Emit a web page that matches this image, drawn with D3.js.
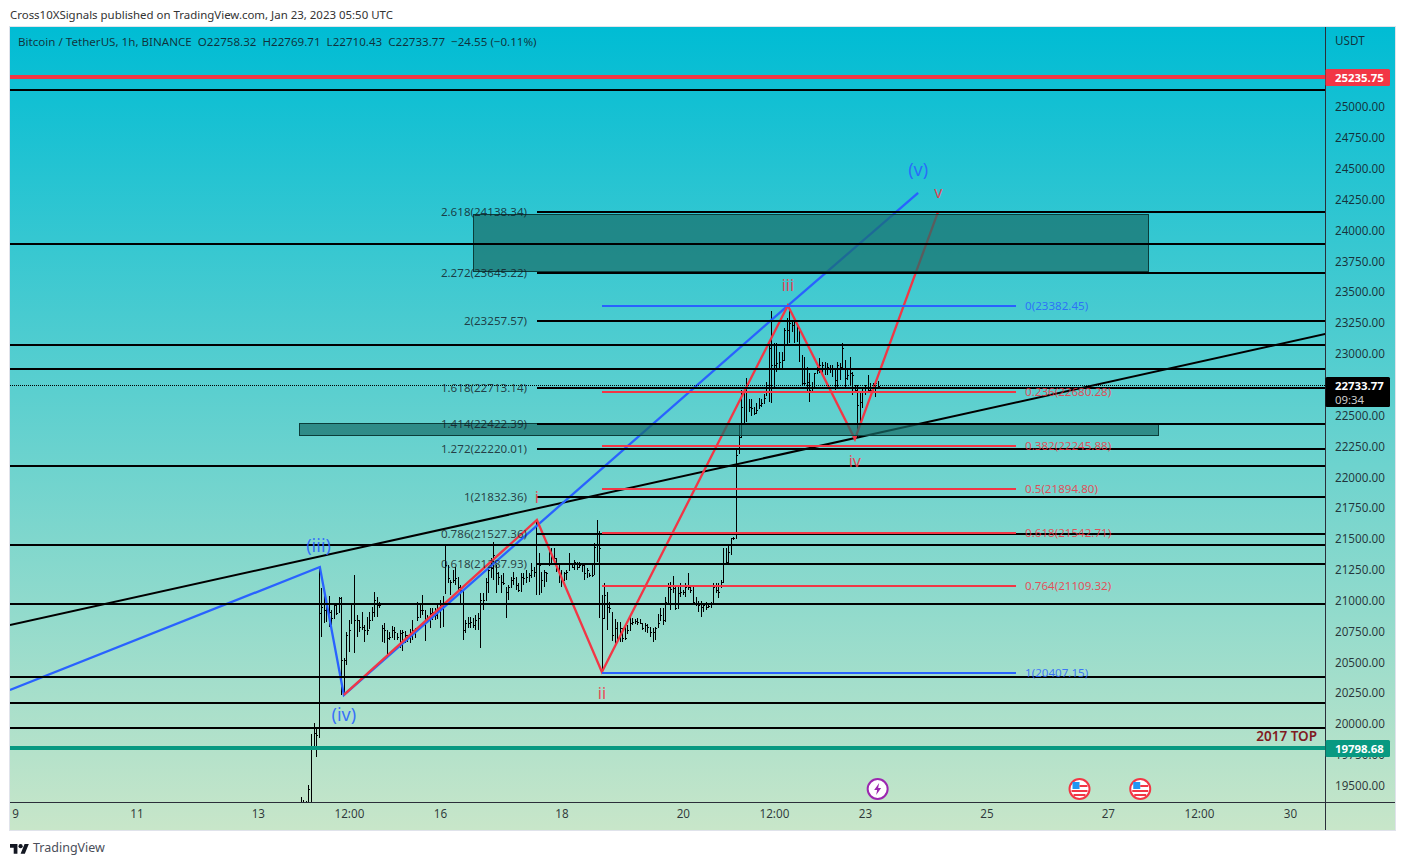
<!DOCTYPE html>
<html>
<head>
<meta charset="utf-8">
<script src="https://cdn.jsdelivr.net/npm/d3@7"></script>
<style>
  html, body { margin: 0; padding: 0; background: #fff; }
  svg { display: block; }
  text { font-family: "Noto Sans", sans-serif; }
</style>
</head>
<body>
<div id="chart"></div>
<script>
// Hours counted from 2023-01-09 00:00 UTC
const startDate = Date.UTC(2023, 0, 9);
const firstBarHour = 113;

// Hourly bars, one value per hour from firstBarHour on. Open is the previous close.
const barHigh = [
  19399,19375,19365,19497,19910,19999,19958,
  21261,21090,21036,20982,21028,20915,20955,20955,21018,21018,
  20523,20739,20834,20974,21198,20874,20834,20901,20793,20861,
  20901,20942,21063,21023,20982,20793,20807,20753,20739,20788,
  20780,20726,20753,20753,20747,20712,20758,20834,20766,20982,
  20969,21036,20915,20874,20928,20928,20928,20955,20996,21025,
  21442,21280,21158,21239,21266,21185,21118,21077,20834,20861,
  20861,20848,20875,20888,21050,21050,21172,21253,21334,21469,
  21280,21226,21199,21212,21104,21118,21185,21226,21185,21131,
  21212,21212,21239,21212,21293,21266,21644,21374,21226,21239,
  21226,21415,21415,21415,21334,21280,21239,21226,21239,21374,
  21293,21320,21307,21307,21293,21293,21253,21212,21280,21455,
  21644,21555,21037,21131,21059,20978,20902,20843,20816,20816,
  20767,20780,20794,20875,20848,20843,20848,20843,20807,20807,
  20799,20780,20767,20780,20880,20929,20929,21023,21131,21145,
  21191,21104,21118,21131,21077,21131,21212,21118,21118,21023,
  20988,20988,20969,20983,20969,20978,21131,21131,21131,21158,
  21415,21415,21442,21496,21510,22212,22414,22698,22698,22793,
  22625,22625,22563,22590,22630,22625,22663,22766,23090,23338,
  23076,23076,23009,23009,23198,23279,23373,23252,23292,23225,
  23211,22982,22968,22887,22833,22766,22833,22887,22955,22928,
  22928,22914,22901,22901,22874,22928,22914,23076,22941,22874,
  22968,22847,22739,22739,22684,22711,22739,22820,22752,22752,22766,22769.71
];
const barLow = [
  19300,19300,19310,19320,19300,19805,19724,
  19880,20694,20807,20820,20780,20793,20847,20874,20901,20226,
  20240,20469,20577,20807,20569,20693,20739,20753,20658,20712,
  20766,20834,20861,20861,20928,20658,20644,20550,20672,20685,
  20672,20672,20604,20585,20644,20658,20650,20672,20685,20834,
  20847,20874,20666,20807,20766,20834,20834,20839,20766,20780,
  21050,21131,21037,21131,21118,21064,20956,20672,20727,20767,
  20767,20767,20754,20754,20610,20915,20997,21050,21172,21158,
  21050,21118,21050,21118,20848,20997,21104,21118,21077,21064,
  21064,21118,21131,21145,21172,21185,21037,21037,21050,21104,
  21145,21280,21293,21280,21226,21131,21104,21158,21158,21239,
  21253,21239,21239,21253,21226,21158,21172,21185,21185,21204,
  21307,20848,20412,20848,20754,20888,20664,20632,20645,20659,
  20659,20672,20726,20754,20794,20799,20794,20799,20754,20740,
  20726,20699,20659,20672,20780,20834,20794,20821,20956,20915,
  21050,20915,20929,21023,21037,21023,21077,21050,20969,20950,
  20902,20861,20902,20915,20929,20929,20969,21050,21015,21104,
  21131,21293,21293,21361,21483,21498,22185,22317,22428,22441,
  22522,22490,22495,22509,22549,22563,22590,22657,22603,22590,
  22711,22847,22860,22860,22941,23063,23076,23171,23076,23084,
  22928,22739,22739,22684,22603,22671,22725,22833,22833,22820,
  22820,22820,22833,22806,22698,22711,22779,22874,22725,22779,
  22739,22657,22671,22306,22441,22549,22657,22671,22671,22684,22644,22710.43
];
const barClose = [
  19350,19340,19330,19460,19800,19918,19901,
  20888,20942,20915,20942,20901,20847,20955,20888,21010,20510,
  20510,20712,20753,20969,20834,20834,20780,20780,20753,20753,
  20834,20901,20996,20955,20955,20766,20753,20685,20699,20753,
  20739,20699,20726,20739,20712,20685,20712,20753,20753,20861,
  20915,20915,20834,20861,20888,20901,20874,20915,20955,20950,
  21280,21172,21145,21158,21172,21104,21077,20754,20807,20807,
  20821,20794,20834,20848,20997,20997,21145,21239,21253,21361,
  21212,21185,21145,21131,21064,21104,21158,21172,21118,21077,
  21185,21172,21185,21199,21239,21226,21293,21280,21158,21226,
  21212,21374,21347,21334,21266,21212,21158,21212,21226,21293,
  21266,21307,21266,21280,21280,21212,21239,21199,21199,21429,
  21442,21415,20848,21037,20942,20929,20713,20767,20672,20767,
  20686,20686,20754,20807,20816,20826,20816,20807,20767,20794,
  20780,20740,20735,20767,20807,20875,20834,20983,21104,21086,
  21091,20929,21050,21064,21064,21104,21104,21077,20983,20969,
  20956,20942,20956,20942,20950,20969,21104,21077,21064,21145,
  21293,21307,21388,21496,21501,22170,22320,22563,22684,22684,
  22563,22549,22509,22536,22576,22590,22630,22739,23036,22901,
  22901,22914,22928,22941,23184,23184,23238,23225,23252,23198,
  23184,22752,22752,22766,22698,22711,22833,22860,22901,22901,
  22874,22887,22874,22874,22779,22901,22887,23036,22793,22820,
  22833,22820,22698,22576,22603,22684,22684,22698,22698,22739,22758,22733.77
];

// Axis ticks (22750 sits fully behind the last price badge in the reference)
const priceTicks = [25000,24750,24500,24250,24000,23750,23500,23250,23000,22500,22250,22000,21750,21500,21250,21000,20750,20500,20250,20000,19750,19500];
const timeTickHours = [0,48,96,132,168,216,264,300,336,384,432,468,504];
const timeTickLabels = ["9","11","13","12:00","16","18","20","12:00","23","25","27","12:00","30"];

// Full width horizontal levels
const fullLevels = [25130,23881,23063,22868,22082,21442,20964,20372,20161,19959];

// Fib extension levels starting at the "i" pivot
const fibExtRatio = ["2.618","2.272","2","1.618","1.414","1.272","1","0.786","0.618"];
const fibExtPrice = [24138.34,23645.22,23257.57,22713.14,22422.39,22220.01,21832.36,21527.36,21287.93];
const fibExtStartHour = 206.3;

// Fib retracement drawn from the ii pivot
const fibRetRatio = ["0","0.236","0.382","0.5","0.618","0.764","1"];
const fibRetPrice = [23382.45,22680.28,22245.88,21894.80,21542.71,21109.32,20407.15];
const fibRetColor = ["#2962ff","#f23645","#f23645","#f23645","#f23645","#f23645","#2962ff"];
const fibRetHours = [232, 395.7];

// Elliott wave paths
const blueWaveHours = [-2,120.5,130,305.5,357];
const blueWavePrices = [20266,21263,20226,23382,24295];
const redWaveHours = [130,206.3,232,305.5,332,364.8];
const redWavePrices = [20226,21644,20412,23382,22300,24138];

// Rising black trend line
const trendHours = [-2,518];
const trendPrices = [20793,23152];

// Wave labels
const waveLabels = ["(iii)","(iv)","(v)","i","ii","iii","iv","v"];
const waveLabelHours = [120,130,357,206.3,232,305.5,332,365];
const waveLabelPrices = [21381,20018,24434,21781,20192,23501,22071,24255];
const waveLabelColors = ["#2962ff","#2962ff","#2962ff","#f23645","#f23645","#f23645","#f23645","#f23645"];

// Supply / demand boxes
const boxHours = [[181,447.9],[112.3,451.8]];
const boxPrices = [[24125,23660],[22430,22330]];

// Key levels with axis badges
const lastPrice = 22733.77, countdown = "09:34";
const topLevel = 25235.75, bottomLevel = 19798.68;

// Event icons along the bottom
const eventHours = [341,420.8,444.8];
const eventKinds = ["bolt","flag","flag"];

const W = 1405, H = 865;
const plot = { left: 10, right: 1325, top: 27, bottom: 802, outerRight: 1395, outerBottom: 830 };

const x = d3.scaleLinear().domain([0, 504]).range([15, 1290]);
const y = d3.scaleLinear().domain([25000, 19500]).range([106, 784.5]);

const svg = d3.select("#chart").append("svg").attr("width", W).attr("height", H);
const defs = svg.append("defs");

const grad = defs.append("linearGradient").attr("id", "bg").attr("x1", 0).attr("y1", 0).attr("x2", 0).attr("y2", 1);
grad.append("stop").attr("offset", "0%").attr("stop-color", "#00bcd4");
grad.append("stop").attr("offset", "100%").attr("stop-color", "#c8e6c9");

defs.append("clipPath").attr("id", "plotClip").append("rect")
  .attr("x", plot.left).attr("y", plot.top)
  .attr("width", plot.right - plot.left).attr("height", plot.bottom - plot.top);

// Header line
svg.append("text").attr("x", 10).attr("y", 19).attr("font-size", 11.45).attr("fill", "#333")
  .text("Cross10XSignals published on TradingView.com, Jan 23, 2023 05:50 UTC");

// Chart card
svg.append("rect").attr("x", plot.left - 0.5).attr("y", plot.top - 0.5)
  .attr("width", plot.outerRight - plot.left + 1).attr("height", plot.outerBottom - plot.top + 1)
  .attr("fill", "url(#bg)").attr("stroke", "#e0e3eb");

const g = svg.append("g").attr("clip-path", "url(#plotClip)");

// OHLC bars
const bars = barHigh.map((high, i) => {
  const prev = i > 0 ? barClose[i - 1] : barClose[0];
  return {
    hour: firstBarHour + i,
    high, low: barLow[i], close: barClose[i],
    open: Math.min(high, Math.max(barLow[i], prev))
  };
});
g.append("g").selectAll("path").data(bars).join("path")
  .attr("d", d => {
    const cx = Math.round(x(d.hour)) + 0.5;
    return `M${cx},${y(d.high)}V${y(d.low)}M${cx - 1},${Math.round(y(d.open)) + 0.5}H${cx}M${cx},${Math.round(y(d.close)) + 0.5}H${cx + 1}`;
  })
  .attr("fill", "none").attr("stroke", "#000").attr("stroke-width", 1)
  .attr("shape-rendering", "crispEdges");

const pathLine = d3.line().x(d => x(d[0])).y(d => y(d[1]));

// Trend line
g.append("path").datum(d3.zip(trendHours, trendPrices)).attr("d", pathLine)
  .attr("fill", "none").attr("stroke", "#000").attr("stroke-width", 2);

// Wave paths
g.append("path").datum(d3.zip(blueWaveHours, blueWavePrices)).attr("d", pathLine)
  .attr("fill", "none").attr("stroke", "#2962ff").attr("stroke-width", 2.3);
g.append("path").datum(d3.zip(redWaveHours, redWavePrices)).attr("d", pathLine)
  .attr("fill", "none").attr("stroke", "#f23645").attr("stroke-width", 2.3);

// Boxes sit over the waves and bars
boxHours.forEach((hrs, i) => {
  g.append("rect")
    .attr("x", Math.round(x(hrs[0])) + 0.5).attr("y", Math.round(y(boxPrices[i][0])) + 0.5)
    .attr("width", Math.round(x(hrs[1]) - x(hrs[0])))
    .attr("height", Math.round(y(boxPrices[i][1]) - y(boxPrices[i][0])))
    .attr("fill", "rgba(24,110,105,0.7)").attr("stroke", "#0a3d3a");
});

// Full width levels
g.append("g").selectAll("line").data(fullLevels).join("line")
  .attr("x1", plot.left).attr("x2", plot.right)
  .attr("y1", d => Math.round(y(d))).attr("y2", d => Math.round(y(d)))
  .attr("stroke", "#000").attr("stroke-width", 2).attr("shape-rendering", "crispEdges");

// Last price dotted line
g.append("line").attr("x1", plot.left).attr("x2", plot.right)
  .attr("y1", Math.round(y(lastPrice)) - 0.5).attr("y2", Math.round(y(lastPrice)) - 0.5)
  .attr("stroke", "#000").attr("stroke-dasharray", "1,1").attr("shape-rendering", "crispEdges");

// Fib extension
g.append("g").selectAll("line").data(fibExtPrice).join("line")
  .attr("x1", x(fibExtStartHour)).attr("x2", plot.right)
  .attr("y1", d => Math.round(y(d))).attr("y2", d => Math.round(y(d)))
  .attr("stroke", "#000").attr("stroke-width", 2).attr("shape-rendering", "crispEdges");
svg.append("g").selectAll("text").data(fibExtPrice).join("text")
  .attr("x", 527).attr("y", d => y(d) + 4).attr("text-anchor", "end")
  .attr("font-size", 11.6).attr("fill", "#131722").attr("fill-opacity", 0.8)
  .text((d, i) => `${fibExtRatio[i]}(${d3.format(".2f")(d)})`);

// Fib retracement
g.append("g").selectAll("line").data(fibRetPrice).join("line")
  .attr("x1", x(fibRetHours[0])).attr("x2", x(fibRetHours[1]))
  .attr("y1", d => Math.round(y(d))).attr("y2", d => Math.round(y(d)))
  .attr("stroke", (d, i) => fibRetColor[i]).attr("stroke-width", 2).attr("shape-rendering", "crispEdges");
svg.append("g").selectAll("text").data(fibRetPrice).join("text")
  .attr("x", x(fibRetHours[1]) + 9).attr("y", d => y(d) + 4)
  .attr("font-size", 11.6).attr("fill", (d, i) => fibRetColor[i]).attr("fill-opacity", 0.85)
  .text((d, i) => `${fibRetRatio[i]}(${d3.format(".2f")(d)})`);

// Key levels
g.append("line").attr("x1", plot.left).attr("x2", plot.right)
  .attr("y1", Math.round(y(topLevel))).attr("y2", Math.round(y(topLevel)))
  .attr("stroke", "#f23645").attr("stroke-width", 4).attr("shape-rendering", "crispEdges");
g.append("line").attr("x1", plot.left).attr("x2", plot.right)
  .attr("y1", Math.round(y(bottomLevel))).attr("y2", Math.round(y(bottomLevel)))
  .attr("stroke", "#089981").attr("stroke-width", 4).attr("shape-rendering", "crispEdges");
svg.append("text").attr("x", 1317).attr("y", y(bottomLevel) - 7).attr("text-anchor", "end")
  .attr("font-size", 13.5).attr("font-weight", 600).attr("fill", "#801922").text("2017 TOP");

// Wave labels
svg.append("g").selectAll("text").data(waveLabels).join("text")
  .attr("x", (d, i) => x(waveLabelHours[i])).attr("y", (d, i) => y(waveLabelPrices[i]))
  .attr("text-anchor", "middle").attr("font-size", (d, i) => i < 3 ? 18 : 16)
  .attr("fill", (d, i) => waveLabelColors[i]).attr("fill-opacity", 0.9).text(d => d);

// Axes
const priceAxis = svg.append("g").attr("transform", `translate(${plot.right},0)`)
  .call(d3.axisRight(y).tickValues(priceTicks).tickSize(0).tickPadding(10).tickFormat(d3.format(".2f")));
priceAxis.select(".domain").remove();
priceAxis.selectAll("text").attr("font-size", 11.7).attr("dy", "0.42em").attr("font-family", '"Noto Sans", sans-serif').attr("fill", "#131722").attr("fill-opacity", 0.85);

const timeAxis = svg.append("g").attr("transform", `translate(0,${plot.bottom})`)
  .call(d3.axisBottom(x).tickValues(timeTickHours).tickSize(0).tickPadding(8)
    .tickFormat((d, i) => timeTickLabels[i]));
timeAxis.select(".domain").remove();
timeAxis.selectAll("text").attr("font-size", 11.7).attr("font-family", '"Noto Sans", sans-serif').attr("fill", "#131722").attr("fill-opacity", 0.85);

svg.append("line").attr("x1", plot.left).attr("x2", plot.outerRight).attr("y1", plot.bottom + 0.5).attr("y2", plot.bottom + 0.5)
  .attr("stroke", "#2a2e39").attr("shape-rendering", "crispEdges");
svg.append("line").attr("x1", plot.right + 0.5).attr("x2", plot.right + 0.5).attr("y1", plot.top).attr("y2", plot.outerBottom)
  .attr("stroke", "#2a2e39").attr("shape-rendering", "crispEdges");

svg.append("text").attr("x", 1335).attr("y", 45).attr("font-size", 11.7).attr("fill", "#131722").attr("fill-opacity", 0.85).text("USDT");

// Price badges
function badge(price, color, lines) {
  const double = lines.length > 1;
  const h = double ? 30 : 17;
  const top = Math.round(y(price)) - (double ? 9 : 8);
  svg.append("rect").attr("x", plot.right + 0.5).attr("y", top).attr("width", 64.5).attr("height", h).attr("rx", 1.5).attr("fill", color);
  lines.forEach((t, i) => {
    svg.append("text").attr("x", 1335).attr("y", top + 13 + i * 14)
      .attr("font-size", 11.4).attr("font-weight", i ? 400 : 700)
      .attr("fill", i ? "#ccc" : "#fff").text(t);
  });
}
badge(topLevel, "#f23645", [d3.format(".2f")(topLevel)]);
badge(bottomLevel, "#089981", [d3.format(".2f")(bottomLevel)]);
badge(lastPrice, "#000", [d3.format(".2f")(lastPrice), countdown]);

// Event icons
eventHours.forEach((h, i) => {
  const ev = svg.append("g").attr("transform", `translate(${x(h)},789)`);
  if (eventKinds[i] === "bolt") {
    ev.append("circle").attr("r", 10).attr("fill", "#fff").attr("stroke", "#9c27b0").attr("stroke-width", 2);
    ev.append("path").attr("d", "M1.5,-6L-3.5,1H-0.5L-1.5,6L3.5,-1H0.5Z").attr("fill", "#9c27b0");
  } else {
    ev.append("circle").attr("r", 10).attr("fill", "#fff").attr("stroke", "#f23645").attr("stroke-width", 2);
    ev.append("rect").attr("x", -7).attr("y", -7).attr("width", 7).attr("height", 7).attr("fill", "#2196f3");
    ev.append("rect").attr("x", 0).attr("y", -4).attr("width", 8).attr("height", 2).attr("fill", "#f23645");
    ev.append("rect").attr("x", -8).attr("y", 1).attr("width", 16).attr("height", 2).attr("fill", "#f23645");
    ev.append("rect").attr("x", -6).attr("y", 5).attr("width", 12).attr("height", 2).attr("fill", "#f23645");
  }
});

// Title
svg.append("text").attr("x", 18).attr("y", 46).attr("font-size", 11.6).attr("fill", "#131722").attr("fill-opacity", 0.85)
  .attr("xml:space", "preserve").style("white-space", "pre")
  .text("Bitcoin / TetherUS, 1h, BINANCE  O22758.32  H22769.71  L22710.43  C22733.77  \u221224.55 (\u22120.11%)");

// TradingView logo
const logo = svg.append("g").attr("transform", "translate(10,842) scale(0.53)");
logo.append("path").attr("d", "M14 22H7V11H0V4h14v18zM28 22h-8l7.5-18h8L28 22z").attr("fill", "#131722");
logo.append("circle").attr("cx", 20).attr("cy", 8).attr("r", 4).attr("fill", "#131722");
svg.append("text").attr("x", 33).attr("y", 852).attr("font-size", 12.5).attr("fill", "#4a4e59").text("TradingView");
</script>
</body>
</html>
